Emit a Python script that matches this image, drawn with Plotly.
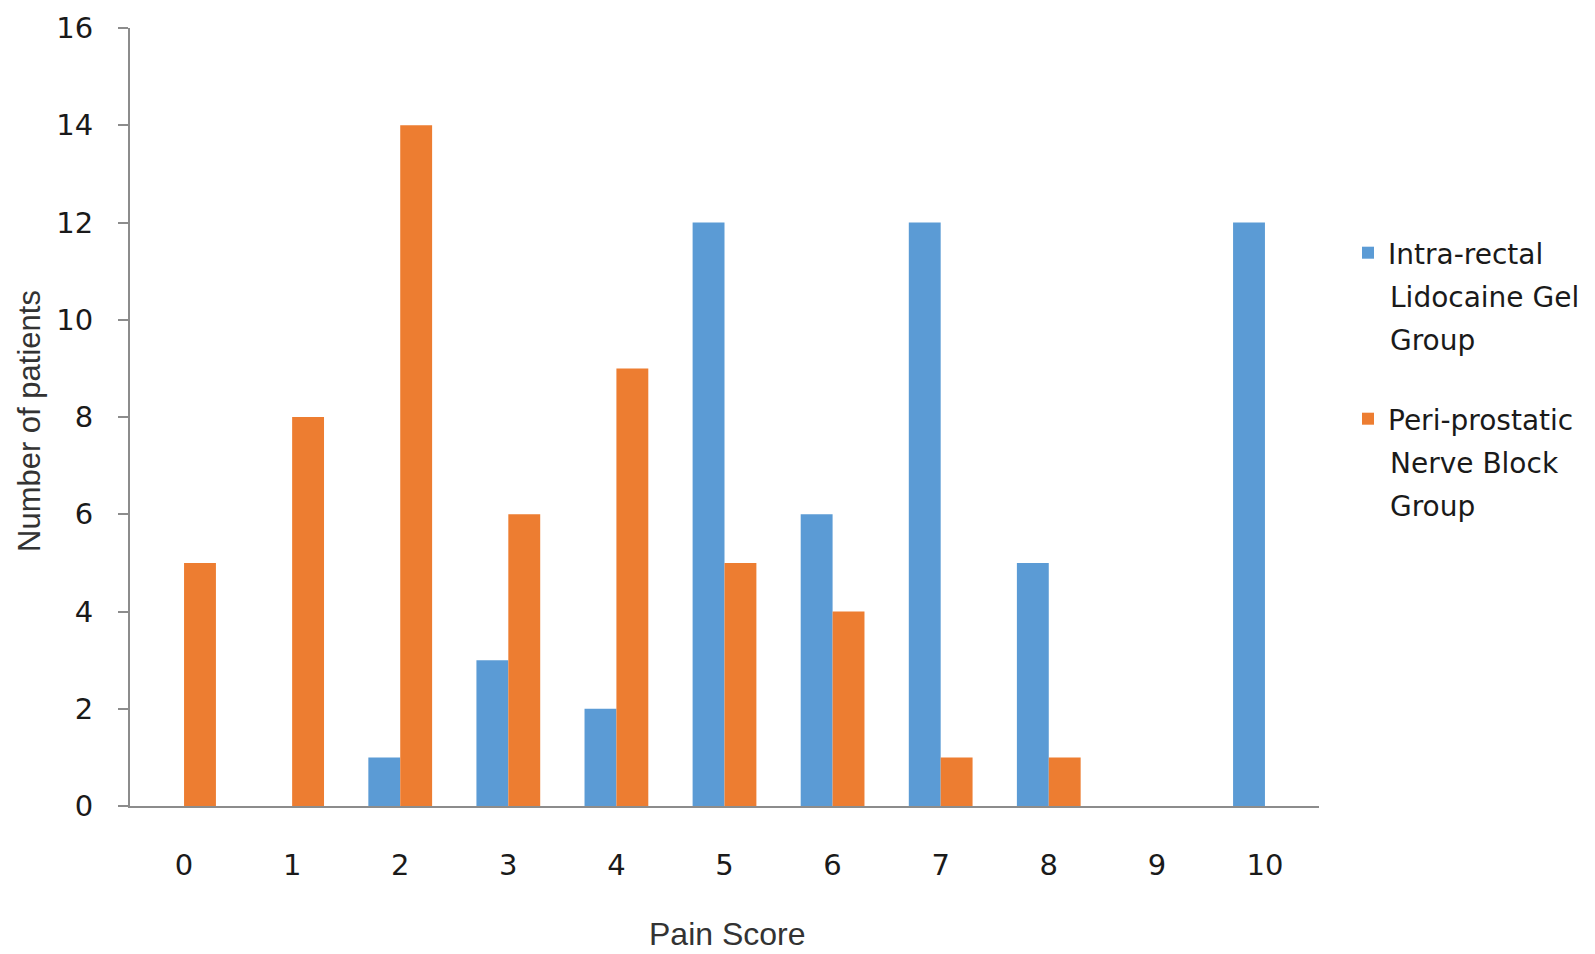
import plotly.graph_objects as go

pain_scores = ["0", "1", "2", "3", "4", "5", "6", "7", "8", "9", "10"]
lidocaine_gel = [0, 0, 1, 3, 2, 12, 6, 12, 5, 0, 12]
nerve_block = [5, 8, 14, 6, 9, 5, 4, 1, 1, 0, 0]
y_ticks = [0, 2, 4, 6, 8, 10, 12, 14, 16]
legend_lines_1 = ["Intra-rectal", "Lidocaine Gel", "Group"]
legend_lines_2 = ["Peri-prostatic", "Nerve Block", "Group"]

FONT = "DejaVu Sans"
TITLE_FONT = "Liberation Sans"
TXT = "#1a1a1a"

OFF = 8  # page body margin
W, H = 1595 - OFF, 954 - OFF
# plot area in reference (page) pixels
L, R, T, B = 130 - OFF, 1319 - OFF, 28 - OFF, 806 - OFF
PW, PH = R - L, B - T


def px_x(x):
    return (x - OFF - L) / PW


def px_y(y):
    return (B - (y - OFF)) / PH


fig = go.Figure()
fig.add_trace(go.Bar(x=pain_scores, y=lidocaine_gel, name=legend_lines_1[0],
                     legend="legend",
                     marker=dict(color="#5B9BD5", line=dict(width=0))))
fig.add_trace(go.Bar(x=pain_scores, y=nerve_block, name=legend_lines_2[0],
                     legend="legend2",
                     marker=dict(color="#ED7D31", line=dict(width=0))))

annotations = []
for lines, y0 in ((legend_lines_1, 254), (legend_lines_2, 420)):
    for i, t in enumerate(lines[1:], start=1):
        annotations.append(dict(text=t, xref="paper", yref="paper",
                                x=px_x(1388), y=px_y(y0 + 43 * i),
                                xanchor="left", yanchor="middle", showarrow=False,
                                font=dict(size=28, family=FONT, color=TXT)))
annotations.append(dict(text="Pain Score", xref="paper", yref="paper",
                        x=px_x(727), y=px_y(934), xanchor="center", yanchor="middle",
                        showarrow=False, font=dict(size=32, family=TITLE_FONT, color="#333333")))
annotations.append(dict(text="Number of patients", xref="paper", yref="paper",
                        x=px_x(29), y=px_y(421), xanchor="center", yanchor="middle",
                        textangle=-90, showarrow=False,
                        font=dict(size=31, family=TITLE_FONT, color="#333333")))

leg_common = dict(xanchor="left", yanchor="top", valign="middle", itemwidth=30,
                  font=dict(size=28, family=FONT, color=TXT),
                  bgcolor="rgba(0,0,0,0)")

fig.update_layout(
    width=W, height=H,
    margin=dict(l=L, r=W - R, t=T, b=H - B, autoexpand=False),
    paper_bgcolor="white", plot_bgcolor="white",
    barmode="group", bargap=0.41, bargroupgap=0,
    font=dict(family=FONT, color=TXT),
    showlegend=True,
    legend=dict(x=px_x(1348), y=px_y(228), **leg_common),
    legend2=dict(x=px_x(1348), y=px_y(394), **leg_common),
    annotations=annotations,
    xaxis=dict(type="category", range=[-0.5, 10.5], automargin=False,
               showline=True, linecolor="#8c8c8c", linewidth=2,
               ticks="", showgrid=False, zeroline=False,
               tickfont=dict(size=29, family=FONT, color=TXT),
               ticklabelstandoff=32),
    yaxis=dict(range=[0, 16], tickvals=y_ticks, automargin=False,
               showline=True, linecolor="#8c8c8c", linewidth=2,
               ticks="outside", ticklen=10, tickcolor="#8c8c8c", tickwidth=2,
               showgrid=False, zeroline=False,
               tickfont=dict(size=29, family=FONT, color=TXT),
               ticklabelstandoff=19),
)

fig.write_html("out.html")
